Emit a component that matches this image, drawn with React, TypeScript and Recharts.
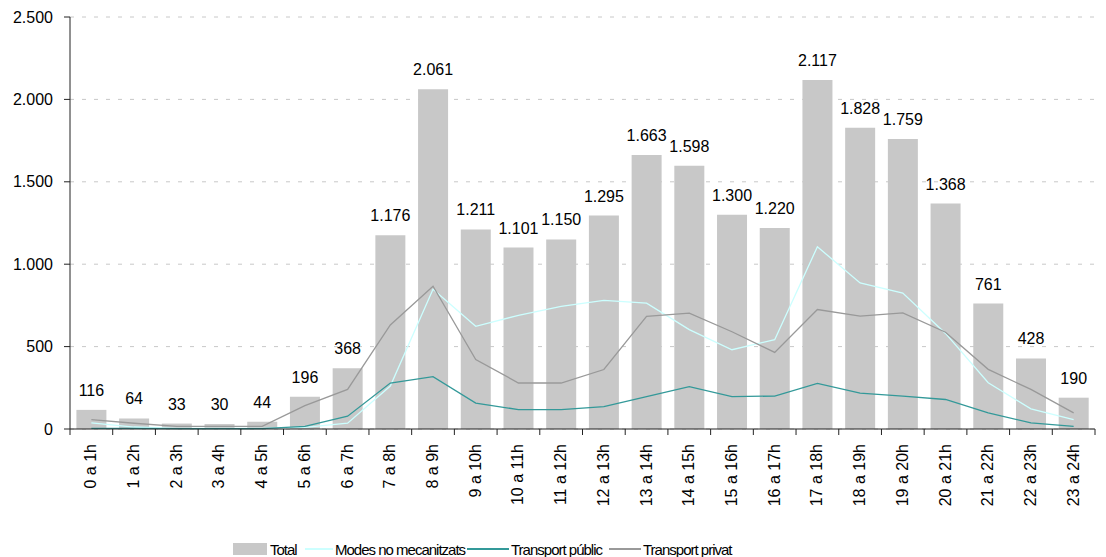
import React from 'react';
import {
  ComposedChart, Bar, Line, XAxis, YAxis, CartesianGrid, Legend, LabelList,
} from 'recharts';

const hours = [
  '0 a 1h', '1 a 2h', '2 a 3h', '3 a 4h', '4 a 5h', '5 a 6h', '6 a 7h', '7 a 8h',
  '8 a 9h', '9 a 10h', '10 a 11h', '11 a 12h', '12 a 13h', '13 a 14h', '14 a 15h', '15 a 16h',
  '16 a 17h', '17 a 18h', '18 a 19h', '19 a 20h', '20 a 21h', '21 a 22h', '22 a 23h', '23 a 24h',
];

const total = [
  116, 64, 33, 30, 44, 196, 368, 1176, 2061, 1211, 1101, 1150,
  1295, 1663, 1598, 1300, 1220, 2117, 1828, 1759, 1368, 761, 428, 190,
];

const noMecanitzats = [
  37, 12, 3, 3, 3, 10, 35, 261, 848, 623, 690, 744,
  780, 764, 603, 481, 542, 1106, 886, 825, 580, 281, 122, 57,
];

const public_ = [
  4, 4, 2, 2, 2, 16, 78, 279, 318, 157, 118, 118,
  136, 196, 257, 196, 200, 277, 218, 200, 179, 98, 37, 16,
];

const privat = [
  57, 35, 16, 16, 16, 142, 240, 631, 866, 422, 279, 279,
  361, 683, 703, 590, 465, 725, 685, 705, 587, 362, 240, 98,
];

const yTicks = [0, 500, 1000, 1500, 2000, 2500];

const data = hours.map((h, i) => ({
  hour: h,
  total: total[i],
  modes: noMecanitzats[i],
  public: public_[i],
  privat: privat[i],
}));

const FONT = "'Liberation Sans', Arial, sans-serif";

const fmt = (v: number) => String(v).replace(/\B(?=(\d{3})+(?!\d))/g, '.');

const HourTick = (props: any) => {
  const { x, y, payload, index } = props;
  const half = payload?.offset ?? 0;
  return (
    <g transform={`translate(${x},${y})`}>
      <line x1={-half} y1={-8} x2={-half} y2={-2} stroke="#222" />
      {index === hours.length - 1 && (
        <line x1={half} y1={-8} x2={half} y2={-2} stroke="#222" />
      )}
      <text
        x={0}
        y={0}
        dy={5}
        transform="translate(0,7) rotate(-90)"
        textAnchor="end"
        fontSize={16}
        fontFamily={FONT}
        fill="#000"
      >
        {payload.value}
      </text>
    </g>
  );
};

// legend: name, icon kind, colour, left edge and icon width
const legendItems = [
  { name: 'Total', kind: 'box', color: '#c8c8c8', left: 233, w: 34 },
  { name: 'Modes no mecanitzats', kind: 'line', color: '#ccffff', left: 305, w: 28 },
  { name: 'Transport públic', kind: 'line', color: '#339999', left: 467, w: 42 },
  { name: 'Transport privat', kind: 'line', color: '#999999', left: 609, w: 32 },
];

const ChartLegend = () => (
  <div style={{ position: 'relative', width: 1106, height: 20, fontFamily: FONT, fontSize: 15, letterSpacing: -1, color: '#000' }}>
    {legendItems.map((it) => (
      <div key={it.name} style={{ position: 'absolute', left: it.left, top: 0, height: 20, display: 'flex', alignItems: 'center', whiteSpace: 'nowrap' }}>
        {it.kind === 'box' ? (
          <div style={{ width: it.w, height: 12, background: it.color, marginRight: 3 }} />
        ) : (
          <div style={{ width: it.w, height: 2, background: it.color, marginRight: 2 }} />
        )}
        <span>{it.name}</span>
      </div>
    ))}
  </div>
);

export default function App() {
  return (
    <div style={{ position: 'absolute', left: 0, top: 0, background: '#fff' }}>
      <ComposedChart
        width={1106}
        height={557}
        data={data}
        margin={{ top: 17, right: 11, left: 0, bottom: 0 }}
        barCategoryGap="15%"
      >
        <CartesianGrid vertical={false} stroke="#c8c8c8" strokeDasharray="4 8" />
        <XAxis
          dataKey="hour"
          interval={0}
          height={108}
          tickLine={false}
          tickSize={6}
          tickMargin={2}
          axisLine={{ stroke: '#222' }}
          tick={<HourTick />}
        />
        <YAxis
          width={70}
          domain={[0, 2500]}
          ticks={yTicks}
          tickFormatter={fmt}
          tickSize={6}
          tickMargin={11}
          axisLine={{ stroke: '#222' }}
          tickLine={{ stroke: '#222' }}
          tick={{ fontSize: 16, fontFamily: FONT, fill: '#000' }}
        />
        <Legend
          verticalAlign="bottom"
          content={<ChartLegend />}
          wrapperStyle={{ position: 'absolute', left: 0, top: 539, width: 1106, height: 20 }}
        />
        <Bar dataKey="total" name="Total" fill="#c8c8c8" isAnimationActive={false}>
          <LabelList
            dataKey="total"
            position="top"
            offset={14}
            formatter={(v: any) => fmt(Number(v))}
            style={{ fontSize: 16, fontFamily: FONT, fill: '#000' }}
          />
        </Bar>
        <Line dataKey="modes" name="Modes no mecanitzats" stroke="#ccffff" strokeWidth={1.3} dot={false} isAnimationActive={false} />
        <Line dataKey="public" name="Transport públic" stroke="#339999" strokeWidth={1.3} dot={false} isAnimationActive={false} />
        <Line dataKey="privat" name="Transport privat" stroke="#999999" strokeWidth={1.3} dot={false} isAnimationActive={false} />
      </ComposedChart>
    </div>
  );
}
